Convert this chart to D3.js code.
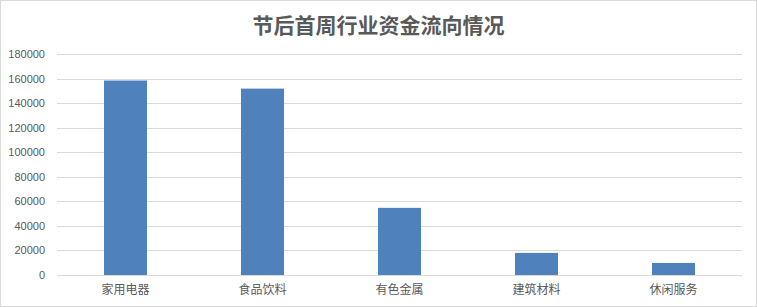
<!DOCTYPE html>
<html>
<head>
<meta charset="utf-8">
<script src="https://cdn.jsdelivr.net/npm/d3@7/dist/d3.min.js"></script>
<style>
  html, body { margin: 0; padding: 0; background: #fff; }
  svg { display: block; }
</style>
</head>
<body>
<svg id="chart" width="757" height="307"></svg>
<script>
// Sector fund flows in the first week after the holiday
const categories = ["家用电器", "食品饮料", "有色金属", "建筑材料", "休闲服务"];
const values = [158400, 151800, 54700, 18000, 9800];
const yTicks = [0, 20000, 40000, 60000, 80000, 100000, 120000, 140000, 160000, 180000];
const titleText = "节后首周行业资金流向情况";

const W = 757, H = 307;
const margin = { left: 57, right: 15, top: 54, bottom: 32 };
const svg = d3.select("#chart");

// chart frame
svg.append("rect")
  .attr("x", 0.5).attr("y", 0.5)
  .attr("width", W - 1).attr("height", H - 1)
  .attr("fill", "#fff").attr("stroke", "#d9d9d9");

const x = d3.scaleBand()
  .domain(categories)
  .range([margin.left, W - margin.right])
  .paddingInner(0.686)
  .paddingOuter(0.343);

const y = d3.scaleLinear()
  .domain([0, 180000])
  .range([H - margin.bottom, margin.top]);

// gridlines
svg.append("g")
  .selectAll("line")
  .data(yTicks)
  .join("line")
  .attr("x1", margin.left).attr("x2", W - margin.right)
  .attr("y1", d => Math.round(y(d)) + 0.5)
  .attr("y2", d => Math.round(y(d)) + 0.5)
  .attr("stroke", "#d9d9d9").attr("stroke-width", 1);

// y axis labels
const yAxis = d3.axisLeft(y).tickValues(yTicks).tickSize(0).tickPadding(0).tickFormat(d3.format("d"));
const gy = svg.append("g")
  .attr("transform", `translate(${margin.left - 12},0)`)
  .call(yAxis);
gy.select(".domain").remove();
gy.selectAll("text")
  .attr("fill", "#595959")
  .style("font-family", "'Liberation Sans', Arial, sans-serif")
  .style("font-size", "11px");

// bars
svg.append("g")
  .selectAll("rect")
  .data(values)
  .join("rect")
  .attr("x", (d, i) => x(categories[i]))
  .attr("width", x.bandwidth())
  .attr("y", d => y(d))
  .attr("height", d => y(0) - y(d))
  .attr("fill", "#4f81bd");

// x axis labels
const xAxis = d3.axisBottom(x).tickSize(0).tickPadding(0);
const gx = svg.append("g")
  .attr("transform", `translate(0,${H - margin.bottom + 10})`)
  .call(xAxis);
gx.select(".domain").remove();
gx.selectAll("text")
  .attr("fill", "#595959")
  .style("font-family", "'Noto Sans CJK SC', sans-serif")
  .style("font-size", "12px");

// title
svg.append("text")
  .attr("x", W / 2)
  .attr("y", 33)
  .attr("text-anchor", "middle")
  .attr("fill", "#595959")
  .style("font-family", "'Noto Sans CJK SC', sans-serif")
  .style("font-weight", "700")
  .style("font-size", "21px")
  .text(titleText);
</script>
</body>
</html>
